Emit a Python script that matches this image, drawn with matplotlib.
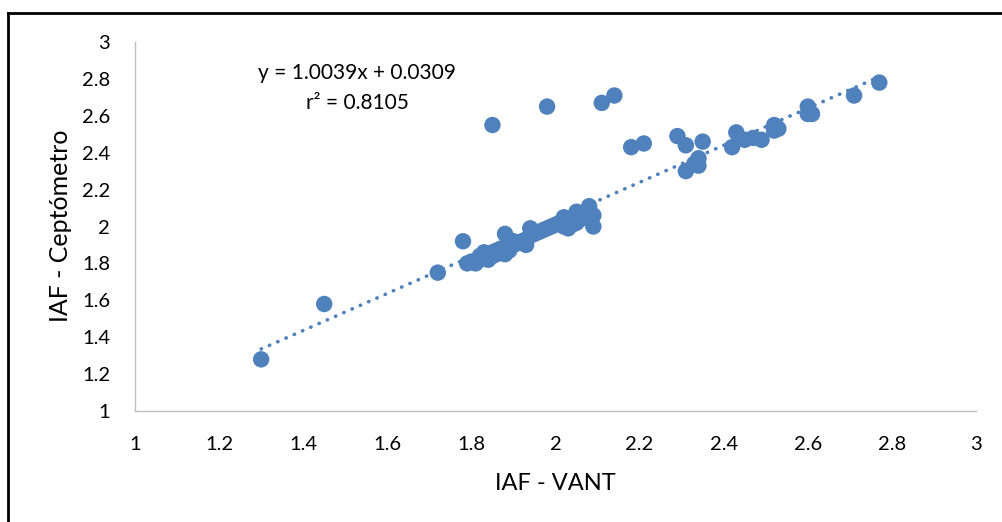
import matplotlib
matplotlib.use("Agg")
import matplotlib.pyplot as plt
import numpy as np

# Data
iaf_vant = [1.30, 1.45, 1.72, 1.78,
            1.79, 1.80, 1.81, 1.82, 1.82, 1.83, 1.84, 1.84, 1.85, 1.85, 1.86, 1.87,
            1.87, 1.88, 1.88, 1.88, 1.89, 1.90, 1.90, 1.91, 1.92, 1.93, 1.93, 1.94,
            1.94, 1.95, 1.96, 1.97, 1.98, 1.99, 2.00, 2.01, 2.02, 2.02, 2.03, 2.03,
            2.04, 2.04, 2.05, 2.05, 2.05, 2.06, 2.06, 2.07, 2.08, 2.08, 2.09, 2.09,
            2.02, 1.83, 1.86, 1.81, 1.84, 1.89,
            1.85, 1.98, 2.11, 2.14,
            2.18, 2.21, 2.29, 2.31, 2.35, 2.31, 2.34, 2.34, 2.33,
            2.43, 2.42, 2.45, 2.47, 2.49, 2.52, 2.53, 2.52,
            2.60, 2.60, 2.61, 2.71, 2.77]
iaf_ceptometro = [1.28, 1.58, 1.75, 1.92,
                  1.80, 1.81, 1.80, 1.82, 1.84, 1.86, 1.85, 1.83, 1.84, 1.86, 1.87, 1.86,
                  1.88, 1.87, 1.85, 1.96, 1.89, 1.90, 1.92, 1.91, 1.92, 1.90, 1.93, 1.99,
                  1.95, 1.96, 1.97, 1.98, 1.99, 2.00, 2.01, 2.02, 2.03, 2.00, 2.04, 1.99,
                  2.01, 2.03, 2.02, 2.06, 2.08, 2.04, 2.07, 2.05, 2.11, 2.08, 2.06, 2.00,
                  2.05, 1.84, 1.85, 1.81, 1.82, 1.87,
                  2.55, 2.65, 2.67, 2.71,
                  2.43, 2.45, 2.49, 2.44, 2.46, 2.30, 2.37, 2.33, 2.34,
                  2.51, 2.43, 2.47, 2.48, 2.47, 2.55, 2.53, 2.52,
                  2.65, 2.61, 2.61, 2.71, 2.78]
slope, intercept = 1.0039, 0.0309
r2 = 0.8105
x_ticks = [1, 1.2, 1.4, 1.6, 1.8, 2, 2.2, 2.4, 2.6, 2.8, 3]
y_ticks = [1, 1.2, 1.4, 1.6, 1.8, 2, 2.2, 2.4, 2.6, 2.8, 3]
x_label = "IAF - VANT"
y_label = "IAF - Ceptómetro"

blue = "#4F81BD"
font = ["Lato", "DejaVu Sans"]
plt.rcParams["font.family"] = font

fig = plt.figure(figsize=(10.02, 5.22), dpi=100)
ax = fig.add_axes([135/1002, 111/522, (976-135)/1002, (411-42)/522])

ax.scatter(iaf_vant, iaf_ceptometro, s=140, color=blue, edgecolors="none", zorder=3)

xt = np.array([min(iaf_vant), max(iaf_vant)])
ax.plot(xt, slope*xt + intercept, color=blue, linestyle=(0, (0.1, 2.4)),
        linewidth=2.6, dash_capstyle="round", zorder=2)

ax.set_xlim(1, 3)
ax.set_ylim(1, 3)
ax.set_xticks(x_ticks)
ax.set_yticks(y_ticks)
ax.set_xticklabels([f"{v:g}" for v in x_ticks])
ax.set_yticklabels([f"{v:g}" for v in y_ticks])
ax.tick_params(axis="both", length=0, labelsize=14.5, colors="#000000")
ax.tick_params(axis="x", pad=18)
ax.tick_params(axis="y", pad=18)

for s in ["top", "right"]:
    ax.spines[s].set_visible(False)
for s in ["left", "bottom"]:
    ax.spines[s].set_color("#BFBFBF")
    ax.spines[s].set_linewidth(1.0)

fig.text(555/1002, 1-483/522, x_label, ha="center", va="center", fontsize=17)
fig.text(60/1002, 1-226/522, y_label, ha="center", va="center", fontsize=18, rotation=90)

fig.text(357/1002, 1-73/522, f"y = {slope:.4f}x + {intercept:.4f}", ha="center",
         va="center", fontsize=15)
fig.text(357/1002, 1-103/522, f"r² = {r2:.4f}", ha="center", va="center", fontsize=15)

# outer frame (top and left edges visible)
fig.add_artist(plt.Line2D([7.5/1002, 7.5/1002], [0, 1-12.5/522], color="black",
                          linewidth=2.0, transform=fig.transFigure))
fig.add_artist(plt.Line2D([7.5/1002, 1], [1-12.5/522, 1-12.5/522], color="black",
                          linewidth=2.0, transform=fig.transFigure))

fig.savefig("out.png", dpi=100)
